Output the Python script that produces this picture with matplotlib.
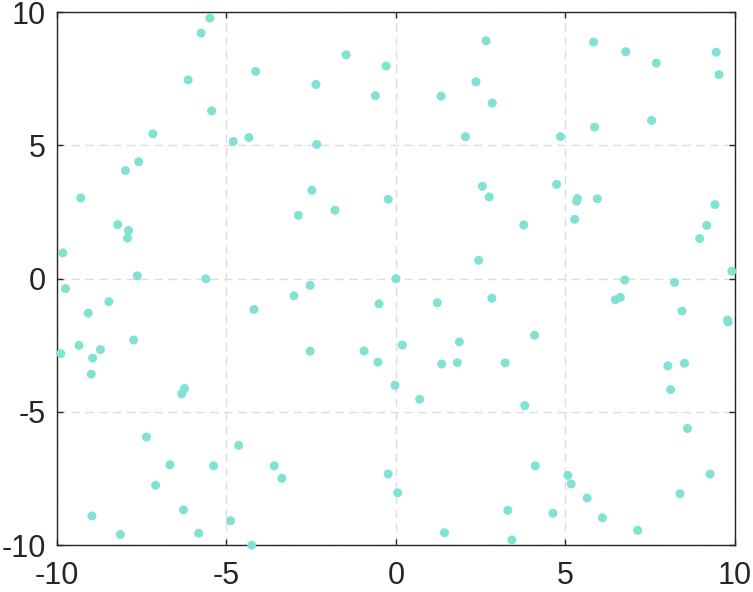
import matplotlib
matplotlib.use("Agg")
import matplotlib.pyplot as plt

# scatter points
x = [-5.49, -5.75, -6.13, -5.44, -4.14, -2.36, -1.47, -0.29, -0.61, -7.17,
     -4.80, -4.34, -2.34, -7.59, -7.98, -9.30, -2.48, -1.80, -2.88, -0.23,
     -8.21, -7.89, -7.92, -9.83, -7.63, -5.61, -2.53, 0.00, -9.75,
     2.66, 2.36, 1.33, 2.84, 2.05, 4.85, 5.83, 6.78, 7.68, 9.45,
     9.53, 5.86, 7.54, 2.55, 2.75, 4.74, 5.35, 5.33, 5.94, 5.27,
     3.77, 9.41, 9.17, 8.96, 2.44, 6.75, 8.22, 9.91,
     -8.47, -9.08, -4.19, -3.01, -0.50, -9.35, -9.89, -8.72, -8.95, -8.99,
     -7.74, -2.53, -0.94, -0.53, -0.03, 0.19, -6.24, -6.32, -7.36, -4.64,
     -6.67, -5.38, -3.59, -3.37, -7.09, -0.23, 0.05, -6.27, -8.97, -4.88,
     -8.13, -5.82, -4.26,
     1.22, 2.83, 6.47, 6.62, 8.44, 9.78, 9.80, 1.87, 1.35, 1.81,
     3.22, 4.09, 0.70, 3.80, 8.02, 8.51, 8.10, 8.60, 4.11, 5.07,
     5.17, 9.27, 5.64, 8.38, 3.30, 4.63, 6.09, 7.13, 1.43, 3.42]
y = [9.78, 9.22, 7.46, 6.30, 7.78, 7.29, 8.40, 7.98, 6.87, 5.44,
     5.15, 5.30, 5.04, 4.39, 4.06, 3.03, 3.32, 2.57, 2.38, 2.98,
     2.03, 1.81, 1.52, 0.97, 0.11, 0.00, -0.25, 0.00, -0.37,
     8.93, 7.39, 6.85, 6.59, 5.33, 5.33, 8.88, 8.52, 8.09, 8.50,
     7.66, 5.69, 5.94, 3.47, 3.07, 3.54, 3.01, 2.91, 3.00, 2.23,
     2.02, 2.78, 2.00, 1.51, 0.69, -0.05, -0.14, 0.28,
     -0.86, -1.29, -1.15, -0.64, -0.94, -2.50, -2.81, -2.66, -2.98, -3.58,
     -2.30, -2.72, -2.71, -3.13, -4.00, -2.49, -4.12, -4.32, -5.94, -6.25,
     -6.98, -7.02, -7.02, -7.49, -7.75, -7.33, -8.03, -8.67, -8.90, -9.08,
     -9.60, -9.55, -10.00,
     -0.90, -0.73, -0.79, -0.70, -1.21, -1.55, -1.62, -2.37, -3.20, -3.15,
     -3.16, -2.12, -4.52, -4.76, -3.27, -3.17, -4.16, -5.62, -7.02, -7.38,
     -7.70, -7.33, -8.23, -8.07, -8.69, -8.80, -8.97, -9.44, -9.53, -9.80]

ticks = [-10, -5, 0, 5, 10]

plt.rcParams["font.family"] = ["Liberation Sans", "DejaVu Sans"]
plt.rcParams["axes.unicode_minus"] = False  # plain hyphen like the reference

fig = plt.figure(figsize=(7.53, 5.92), dpi=100)
ax = fig.add_axes([0.0757, 0.079, 0.9003, 0.9003])

ax.scatter(x, y, s=42, color="#80e2d2", edgecolors="none", zorder=3, clip_on=False)

ax.set_xlim(-10, 10)
ax.set_ylim(-10, 10)
ax.set_xticks(ticks)
ax.set_yticks(ticks)
ax.grid(True, linestyle=(0, (6, 4)), color="#dcdcdc", linewidth=1)
ax.set_axisbelow(True)
ax.tick_params(direction="in", top=True, right=True, length=4.5, width=1,
               labelsize=22, colors="#262626")
ax.tick_params(axis="x", pad=11)
ax.tick_params(axis="y", pad=8)
for s in ax.spines.values():
    s.set_color("#262626")
    s.set_linewidth(1)

fig.savefig("out.png", dpi=100)
